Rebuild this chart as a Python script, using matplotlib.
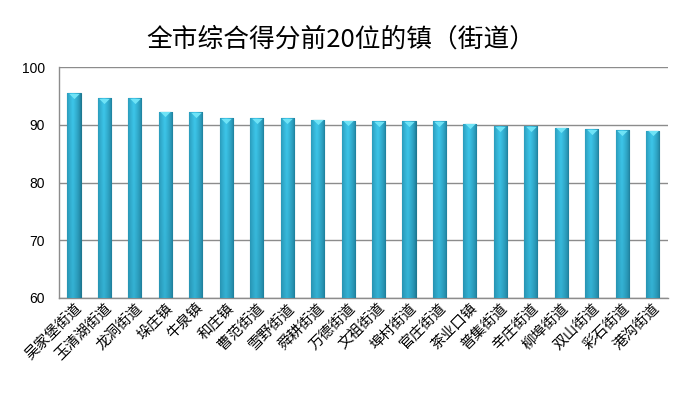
import numpy as np
from matplotlib import pyplot as plt
from matplotlib.path import Path

plt.rcParams['font.family'] = ['Noto Sans CJK SC', 'DejaVu Sans']

towns = ['吴家堡街道', '玉清湖街道', '龙洞街道', '垛庄镇', '牛泉镇', '和庄镇', '曹范街道',
         '雪野街道', '舜耕街道', '万德街道', '文祖街道', '埠村街道', '官庄街道', '茶业口镇',
         '普集街道', '辛庄街道', '柳埠街道', '双山街道', '彩石街道', '港沟街道']
scores = [95.5, 94.6, 94.6, 92.3, 92.2, 91.2, 91.1, 91.1, 90.9, 90.7,
          90.6, 90.6, 90.6, 90.2, 89.8, 89.8, 89.5, 89.2, 89.1, 89.0]
yticks = [60, 70, 80, 90, 100]

fig = plt.figure(figsize=(7, 4.12), dpi=100)
ax = fig.add_axes([0.084, 0.277, 0.87, 0.56])

x = np.arange(len(towns))
bars = ax.bar(x, np.array(scores) - 60, bottom=60, width=0.43,
              color='#30AECF', edgecolor='#1E7890', linewidth=0.8, zorder=3)

# cylinder-like shading inside each bar
light = np.array([0.24, 0.78, 0.92])
dark = np.array([0.11, 0.47, 0.58])
h = np.linspace(0, 1, 40)
v = np.linspace(0, 1, 60)
across = np.clip(1 - np.abs(h - 0.42) * 1.7, 0, 1) ** 0.6
down = 0.72 + 0.28 * v[:, None]
mix = np.clip(across[None, :] * down, 0, 1)
img = dark + (light - dark) * mix[..., None]
for b in bars:
    x0, y0 = b.get_x(), b.get_y()
    im = ax.imshow(img, extent=[x0, x0 + b.get_width(), y0, y0 + b.get_height()],
                   origin='lower', aspect='auto', zorder=3.5, interpolation='bilinear')
    im.set_clip_path(b)

cap = Path([(-1, 0.5), (1, 0.5), (0, -0.5), (-1, 0.5)],
           [Path.MOVETO, Path.LINETO, Path.LINETO, Path.CLOSEPOLY])
ax.plot(x, np.array(scores) - 0.45, linestyle='none', marker=cap, markersize=7.5,
        color='#6FE3F6', markeredgewidth=0, zorder=4)

ax.set_xlim(-0.5, len(towns) - 0.5)
ax.set_ylim(60, 100)
ax.set_yticks(yticks)
ax.set_yticklabels([str(t) for t in yticks], fontsize=10, family='Liberation Sans')
ax.yaxis.grid(True, color='#8C8C8C', linewidth=1.0, zorder=0)
ax.set_axisbelow(True)
ax.tick_params(axis='y', length=0, pad=10)
ax.tick_params(axis='x', length=0, pad=2)
ax.set_xticks(x)
ax.set_xticklabels(towns, rotation=45, ha='right', rotation_mode='anchor', fontsize=10.5)
for s in ['top', 'right']:
    ax.spines[s].set_visible(False)
for s in ['left', 'bottom']:
    ax.spines[s].set_color('#8C8C8C')
    ax.spines[s].set_linewidth(1.0)

fig.text(0.487, 0.903, '全市综合得分前20位的镇（街道）', ha='center', va='center', fontsize=18.5)

fig.savefig('out.png', dpi=100)
